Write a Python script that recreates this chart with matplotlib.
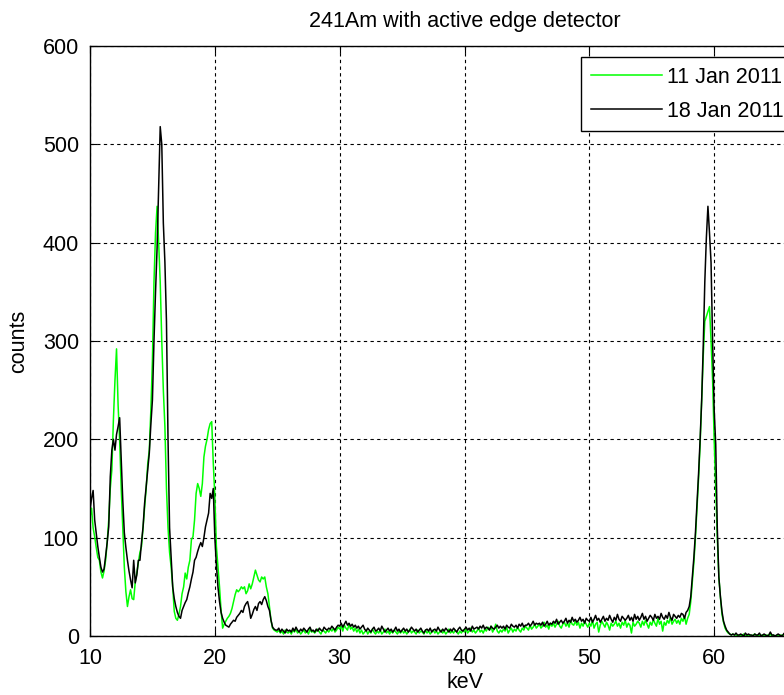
import numpy as np
import matplotlib
matplotlib.use("Agg")
from matplotlib import pyplot as plt

plt.rcParams['font.family'] = ['Liberation Sans', 'DejaVu Sans']

# energy channels, 0.125 keV wide, 10 .. 66 keV
e_start = 10.0
e_step = 0.125

# 11 Jan 2011 (green)
jan11 = [
    121, 130, 110, 101, 90, 80, 77, 65,          # 10
    59, 66, 77, 95, 118, 150, 169, 220,          # 11
    260, 292, 235, 199, 150, 110, 70, 45,        # 12
    30, 40, 47, 38, 37, 55, 64, 75,              # 13
    85, 91, 110, 131, 150, 175, 189, 230,        # 14
    280, 360, 410, 437, 400, 360, 300, 250,      # 15
    213, 150, 110, 85, 70, 50, 25, 18,           # 16
    16, 22, 30, 43, 50, 64, 58, 70,              # 17
    77, 98, 101, 118, 145, 155, 150, 142,        # 18
    155, 182, 193, 200, 210, 216, 218, 176,      # 19
    142, 91, 70, 50, 26, 8, 12, 15,              # 20
    18, 20, 23, 28, 35, 42, 47, 45,              # 21
    47, 50, 48, 50, 43, 46, 53, 48,              # 22
    53, 60, 67, 62, 57, 55, 60, 58,              # 23
    60, 50, 43, 30, 16, 8, 6, 5,                 # 24
    4, 6, 3, 5, 2, 6, 4, 3,                      # 25
    5, 2, 6, 4, 7, 3, 5, 2,                      # 26
    4, 6, 3, 5, 2, 7, 4, 5,                      # 27
    3, 5, 7, 4, 2, 6, 5, 3,                      # 28
    6, 4, 7, 5, 8, 4, 6, 9,                      # 29
    7, 10, 5, 11, 8, 6, 12, 7,                   # 30
    9, 5, 8, 4, 7, 3, 6, 2,                      # 31
    4, 6, 2, 5, 3, 7, 4, 2,                      # 32
    5, 3, 6, 2, 4, 7, 3, 5,                      # 33
    2, 5, 3, 6, 4, 2, 5, 3,                      # 34
    6, 3, 5, 2, 4, 7, 3, 5,                      # 35
    4, 2, 6, 3, 5, 4, 2, 6,                      # 36
    3, 5, 2, 4, 6, 3, 5, 2,                      # 37
    4, 6, 3, 5, 2, 4, 7, 3,                      # 38
    5, 3, 6, 4, 2, 5, 3, 6,                      # 39
    4, 7, 3, 5, 8, 4, 6, 3,                      # 40
    5, 8, 4, 6, 3, 7, 5, 9,                      # 41
    6, 10, 4, 7, 12, 5, 3, 6,                    # 42
    4, 7, 5, 9, 3, 6, 8, 4,                      # 43
    7, 5, 9, 6, 4, 8, 6, 10,                     # 44
    8, 6, 11, 7, 9, 12, 8, 10,                   # 45
    12, 8, 10, 14, 9, 11, 7, 13,                 # 46
    10, 13, 9, 12, 15, 10, 8, 12,                # 47
    14, 10, 13, 9, 16, 12, 11, 15,               # 48
    11, 14, 8, 13, 10, 15, 12, 9,                # 49
    13, 10, 16, 8, 12, 14, 4, 11,                # 50
    15, 12, 9, 14, 11, 6, 13, 10,                # 51
    12, 15, 10, 13, 8, 14, 11, 16,               # 52
    9, 13, 11, 3, 14, 10, 12, 15,                # 53
    13, 9, 15, 11, 16, 12, 8, 14,                # 54
    11, 17, 13, 10, 18, 12, 15, 5,               # 55
    14, 11, 16, 13, 19, 12, 15, 17,              # 56
    13, 16, 12, 18, 15, 20, 12, 18,              # 57
    22, 35, 55, 75, 100, 130, 160, 195,          # 58
    240, 285, 320, 325, 330, 335, 300, 260,      # 59
    200, 150, 100, 60, 40, 22, 14, 8,            # 60
    5, 3, 2, 1, 2, 1, 1, 0,                      # 61
    1, 0, 1, 2, 0, 1, 0, 1,                      # 62
    0, 1, 2, 0, 1, 0, 1, 0,                      # 63
    1, 0, 1, 0, 2, 0, 1, 0,                      # 64
    0, 1, 0, 1, 0, 2, 0, 1,                      # 65
    1,
]

# 18 Jan 2011 (black)
jan18 = [
    128, 140, 148, 118, 104, 91, 80, 70,         # 10
    65, 68, 81, 95, 111, 162, 189, 200,          # 11
    189, 205, 213, 222, 179, 138, 105, 90,       # 12
    77, 66, 57, 49, 77, 54, 62, 77,              # 13
    77, 95, 111, 135, 152, 170, 186, 215,        # 14
    240, 300, 350, 395, 455, 518, 500, 420,      # 15
    380, 320, 200, 110, 80, 50, 38, 30,          # 16
    24, 20, 18, 26, 30, 34, 37, 44,              # 17
    50, 58, 65, 77, 80, 86, 91, 95,              # 18
    91, 100, 111, 118, 125, 145, 140, 150,       # 19
    100, 72, 50, 35, 24, 18, 14, 11,             # 20
    10, 9, 12, 14, 16, 15, 19, 21,               # 21
    23, 26, 24, 30, 33, 35, 28, 18,              # 22
    22, 27, 30, 26, 33, 35, 32, 37,              # 23
    40, 36, 30, 26, 16, 9, 7, 6,                 # 24
    6, 8, 4, 7, 5, 3, 7, 5,                      # 25
    6, 4, 8, 5, 9, 6, 4, 7,                      # 26
    5, 8, 6, 4, 7, 9, 5, 6,                      # 27
    4, 7, 5, 8, 6, 5, 9, 7,                      # 28
    6, 8, 7, 10, 8, 6, 9, 11,                    # 29
    10, 13, 9, 12, 15, 11, 13, 10,               # 30
    12, 9, 11, 8, 10, 7, 9, 11,                  # 31
    7, 5, 8, 6, 4, 7, 9, 5,                      # 32
    6, 8, 5, 10, 7, 4, 6, 8,                     # 33
    5, 7, 4, 6, 9, 5, 7, 4,                      # 34
    6, 8, 5, 7, 4, 6, 9, 7,                      # 35
    5, 7, 4, 6, 8, 5, 3, 6,                      # 36
    7, 5, 8, 4, 6, 7, 5, 9,                      # 37
    6, 4, 7, 5, 8, 6, 4, 7,                      # 38
    5, 8, 6, 4, 7, 9, 6, 5,                      # 39
    7, 9, 6, 8, 5, 10, 7, 8,                     # 40
    9, 7, 10, 8, 11, 7, 9, 8,                    # 41
    6, 10, 8, 7, 9, 11, 8, 10,                   # 42
    8, 10, 7, 11, 9, 8, 12, 10,                  # 43
    9, 11, 8, 12, 10, 13, 9, 11,                 # 44
    11, 13, 10, 12, 15, 11, 13, 12,              # 45
    13, 11, 14, 10, 12, 15, 11, 13,              # 46
    12, 15, 13, 17, 12, 14, 16, 13,              # 47
    15, 18, 13, 16, 14, 19, 15, 17,              # 48
    14, 16, 19, 15, 17, 13, 18, 16,              # 49
    15, 19, 14, 17, 21, 16, 18, 14,              # 50
    17, 20, 15, 18, 16, 21, 17, 14,              # 51
    19, 16, 22, 17, 15, 20, 18, 16,              # 52
    18, 21, 16, 19, 15, 22, 17, 20,              # 53
    16, 19, 23, 17, 20, 15, 18, 21,              # 54
    19, 16, 22, 18, 20, 17, 23, 19,              # 55
    17, 21, 18, 24, 19, 16, 22, 20,              # 56
    18, 21, 19, 23, 22, 18, 24, 26,              # 57
    30, 40, 60, 80, 105, 135, 165, 200,          # 58
    240, 295, 360, 405, 437, 410, 380, 300,      # 59
    230, 195, 110, 60, 40, 25, 15, 10,           # 60
    6, 4, 2, 1, 2, 1, 3, 1,                      # 61
    1, 2, 1, 0, 3, 1, 2, 1,                      # 62
    1, 0, 2, 1, 1, 3, 0, 1,                      # 63
    2, 1, 0, 1, 4, 1, 1, 0,                      # 64
    1, 2, 1, 0, 1, 3, 1, 1,                      # 65
    1,
]

labels = ['11 Jan 2011', '18 Jan 2011']
x_ticks = [10, 20, 30, 40, 50, 60]
y_ticks = [0, 100, 200, 300, 400, 500, 600]

kev = e_start + e_step * np.arange(len(jan11))

fig = plt.figure(figsize=(7.84, 6.95), dpi=100)
# axes run past the right edge of the picture (the original is cropped)
ax = fig.add_axes([90/784, 59/695, 749/784, 590/695])

ax.plot(kev, jan11, color='#00ff00', lw=1.1, label=labels[0])
ax.plot(kev, jan18, color='black', lw=1.1, label=labels[1])

ax.set_xlim(10, 70)
ax.set_ylim(0, 600)
ax.set_xticks(x_ticks)
ax.set_yticks(y_ticks)
ax.grid(True, color='black', linestyle=(0, (3, 3)), lw=0.8)
ax.tick_params(direction='in', top=True, right=True, labelsize=15.5, length=5)
ax.tick_params(axis='x', pad=9)
ax.tick_params(axis='y', pad=8)
for s in ax.spines.values():
    s.set_linewidth(1.0)

ax.set_title('241Am with active edge detector', fontsize=15.5, pad=14)
ax.set_xlabel('keV', fontsize=15.5, labelpad=2)
ax.set_ylabel('counts', fontsize=15.5, labelpad=10)

leg = ax.legend(loc='upper left', bbox_to_anchor=((581-90)/749, (636-57)/590),
                borderaxespad=0, fontsize=15.5, handlelength=3.3, handletextpad=0.25,
                labelspacing=0.6, borderpad=0.45, fancybox=False, framealpha=1)
leg.get_frame().set_edgecolor('black')
leg.get_frame().set_linewidth(1.0)

fig.savefig('out.png', dpi=100)
